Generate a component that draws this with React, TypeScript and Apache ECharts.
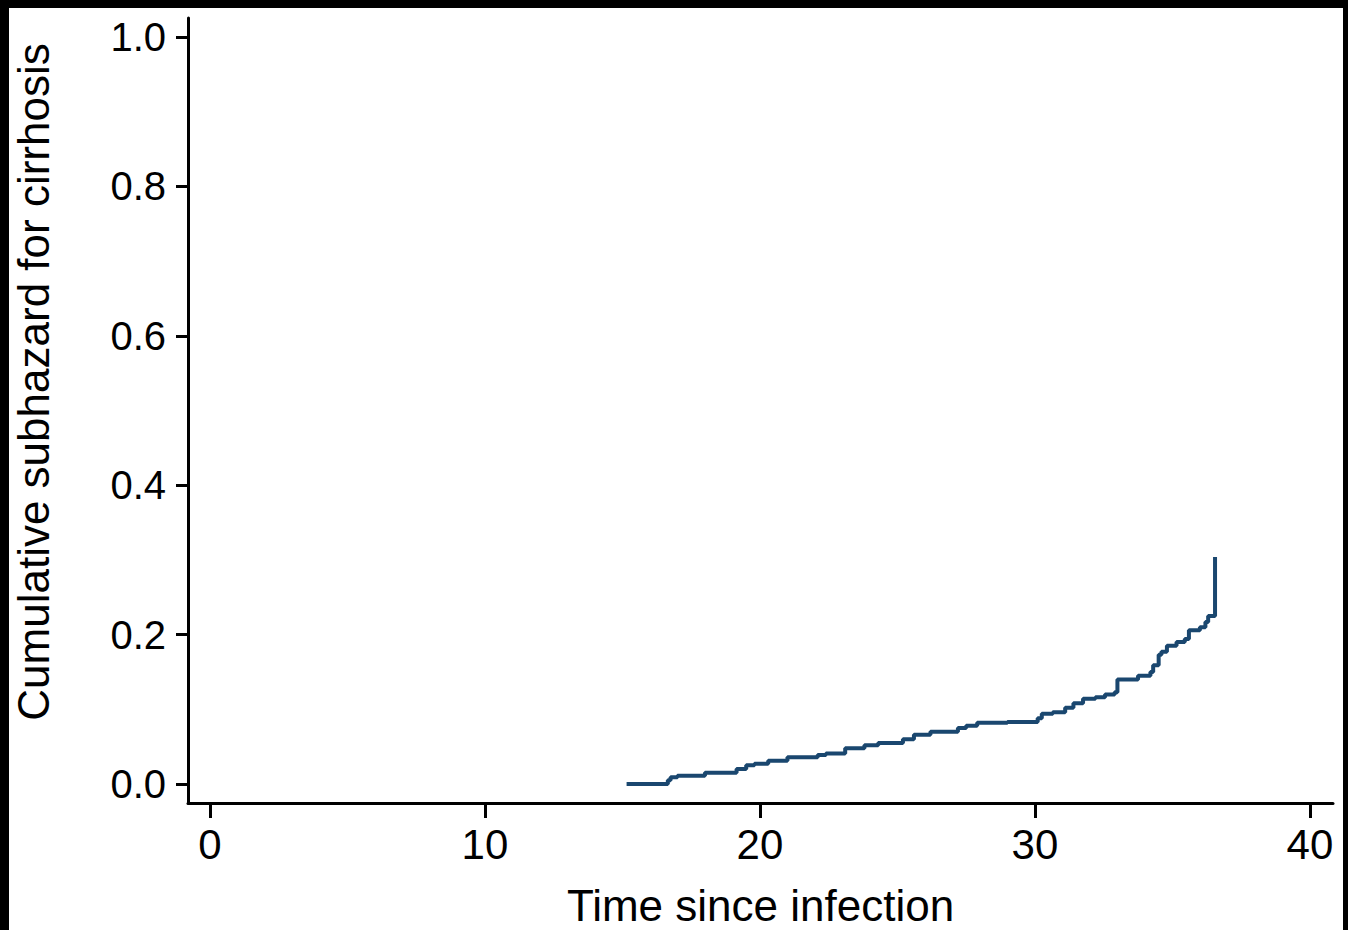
import React, { useEffect, useRef } from "react";
import * as echarts from "echarts";

const times = [15.15, 16.65, 16.75, 17.0, 18.0, 19.15, 19.5, 19.8, 20.3, 21.0, 22.1, 22.4, 23.1, 23.8, 24.3, 25.2, 25.6, 26.2, 27.2, 27.5, 27.9, 29.0, 30.1, 30.25, 30.65, 31.1, 31.4, 31.75, 32.2, 32.55, 32.9, 33.0, 33.75, 34.2, 34.3, 34.5, 34.6, 34.8, 35.15, 35.45, 35.6, 36.0, 36.2, 36.3, 36.55];
const values = [0, 0.005, 0.009, 0.011, 0.015, 0.020, 0.025, 0.027, 0.031, 0.036, 0.039, 0.041, 0.048, 0.052, 0.055, 0.060, 0.066, 0.070, 0.075, 0.078, 0.082, 0.083, 0.088, 0.094, 0.096, 0.102, 0.108, 0.114, 0.116, 0.120, 0.123, 0.140, 0.145, 0.150, 0.159, 0.173, 0.177, 0.185, 0.190, 0.194, 0.206, 0.210, 0.217, 0.225, 0.304];
const xTicks = [0, 10, 20, 30, 40];
const yTicks = [0, 0.2, 0.4, 0.6, 0.8, 1.0];
const xTitle = "Time since infection";
const yTitle = "Cumulative subhazard for cirrhosis";

export default function App() {
  const ref = useRef<HTMLDivElement>(null);
  useEffect(() => {
    document.body.style.margin = "0";
    const chart = echarts.init(ref.current!, null, { renderer: "svg" });
    const font = "'Liberation Sans', Arial, Helvetica, sans-serif";
    chart.setOption({
      animation: false,
      backgroundColor: "#ffffff",
      grid: { left: 179, right: 10, top: 10, bottom: 127, containLabel: false, outerBoundsMode: "none" },
      xAxis: {
        type: "value",
        min: -0.8,
        max: 40.84,
        name: xTitle,
        nameLocation: "middle",
        nameGap: 80,
        nameTextStyle: { fontSize: 44, color: "#000", fontFamily: font },
        axisLine: { show: true, onZero: false, lineStyle: { color: "#000", width: 3 } },
        axisTick: { show: true, length: 15, customValues: xTicks, lineStyle: { color: "#000", width: 3 } },
        axisLabel: { customValues: xTicks, fontSize: 42, color: "#000", fontFamily: font, margin: 20 },
        splitLine: { show: false },
      },
      yAxis: {
        type: "value",
        min: -0.0254,
        max: 1.0254,
        axisLine: { show: true, onZero: false, lineStyle: { color: "#000", width: 3 } },
        axisTick: { show: true, length: 12, customValues: yTicks, lineStyle: { color: "#000", width: 3 } },
        axisLabel: {
          customValues: yTicks,
          fontSize: 40,
          color: "#000",
          fontFamily: font,
          margin: 22,
          formatter: (v: number) => v.toFixed(1),
        },
        splitLine: { show: false },
      },
      graphic: [
        {
          type: "text",
          x: 24,
          y: 374,
          rotation: Math.PI / 2,
          style: {
            text: yTitle,
            fontSize: 44,
            fontFamily: font,
            fill: "#000",
            align: "center",
            verticalAlign: "middle",
          },
        },
      ],
      series: [
        {
          type: "line",
          step: "end",
          showSymbol: false,
          data: times.map((t, i) => [t, values[i]]),
          lineStyle: { color: "#1a476f", width: 4 },
          itemStyle: { color: "#1a476f" },
        },
      ],
    });
    return () => chart.dispose();
  }, []);
  return (
    <div style={{ position: "relative", width: 1348, height: 930, background: "#000", overflow: "hidden" }}>
      <div
        ref={ref}
        style={{ position: "absolute", left: 9, top: 8, width: 1334, height: 922, background: "#fff" }}
      />
    </div>
  );
}
